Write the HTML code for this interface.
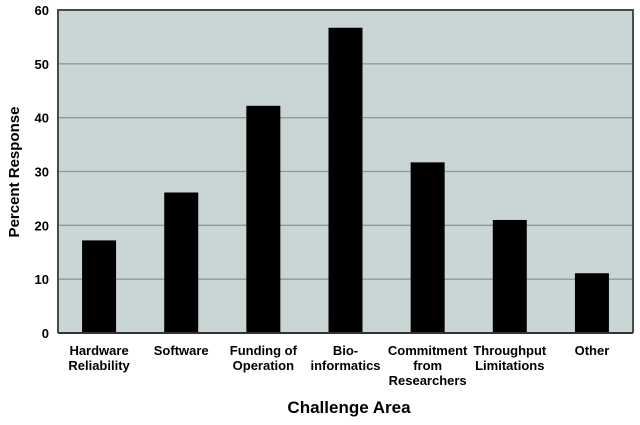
<!DOCTYPE html>
<html><head><meta charset="utf-8"><style>
body{margin:0;background:#fff;font-family:"Liberation Sans",Arial,sans-serif}
</style></head><body>
<svg id="chart" width="640" height="420" xmlns="http://www.w3.org/2000/svg"></svg>
<script>
const categories=[["Hardware","Reliability"],["Software"],["Funding of","Operation"],["Bio-","informatics"],["Commitment","from","Researchers"],["Throughput","Limitations"],["Other"]];
const values=[17.2,26.1,42.2,56.7,31.7,21.0,11.1];
const ticks=[0,10,20,30,40,50,60];
const svg=document.getElementById('chart');
const NS="http://www.w3.org/2000/svg";
const L=58,R=633,T=10,B=333,maxV=60;
const y=v=>B-(v/maxV)*(B-T);
const step=(R-L)/categories.length;
const x=i=>L+step*(i+0.5);
function mk(tag,attrs,parent){const e=document.createElementNS(NS,tag);for(const k in attrs)e.setAttribute(k,attrs[k]);(parent||svg).appendChild(e);return e;}
const bg=mk('rect',{x:L,y:T,width:R-L,height:B-T,fill:'#cad6d6'});


ticks.forEach(t=>{
  if(t>0&&t<60){const g=mk('line',{x1:L,x2:R,y1:y(t),y2:y(t),stroke:'#8a9a9a','stroke-width':1.3});
  
  }
  const tx=mk('text',{x:L-9,y:y(t)+5,'text-anchor':'end','font-size':13,'font-weight':'bold',fill:'#000'});
  tx.textContent=t;
  
  
});
values.forEach((v,i)=>{
  const b=mk('rect',{x:x(i)-17,y:y(v),width:34,height:B-y(v),fill:'#000'});
  
  
  const tx=mk('text',{x:x(i),y:355,'text-anchor':'middle','font-size':13,'font-weight':'bold',fill:'#000'});
  
  
  categories[i].forEach((s,j)=>{const ts=mk('tspan',{x:x(i),dy:j?15:0},tx);ts.textContent=s;});
});
const border=mk('path',{d:`M${L},${B}V${T}H${R}V${B}`,fill:'none',stroke:'#444c4c','stroke-width':2});


const ax=mk('line',{x1:L,x2:R,y1:B,y2:B,stroke:'#333','stroke-width':2});


const xt=mk('text',{x:349,y:413,'text-anchor':'middle','font-size':17,'font-weight':'bold'});
xt.textContent='Challenge Area';


const yt=mk('text',{x:0,y:0,'text-anchor':'middle','font-size':15,'font-weight':'bold',transform:'translate(19,172) rotate(-90)'});
yt.textContent='Percent Response';


</script>
</body></html>
